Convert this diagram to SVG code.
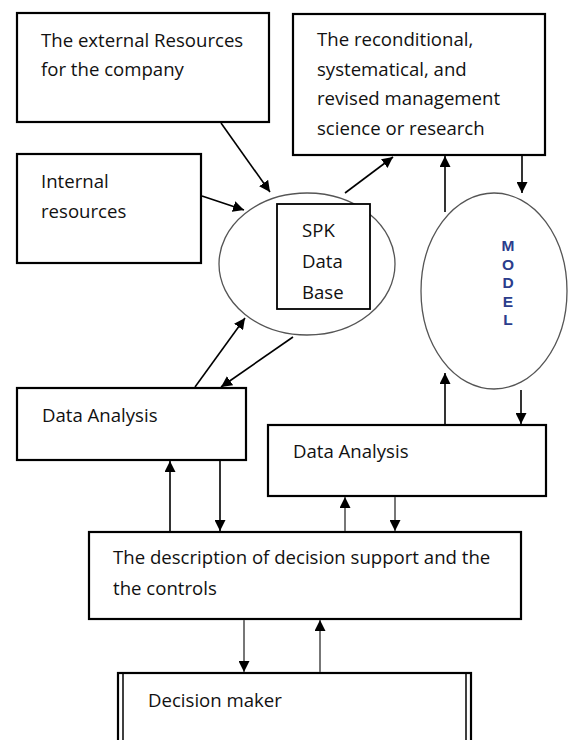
<svg xmlns="http://www.w3.org/2000/svg" width="571" height="740" viewBox="0 0 571 740">
<style>
.box{fill:#fff;stroke:#000;stroke-width:2.2}
.ell{fill:#fff;stroke:#555;stroke-width:1.3}
.t{font-family:"Open Sans","Noto Sans",sans-serif;font-size:18.6px;fill:#111}
.m{font-family:"Liberation Sans",Arial,sans-serif;font-size:15.5px;font-weight:bold;fill:#2b3d8c;text-anchor:middle}
.c{fill:none;stroke:#000;stroke-width:1.6;marker-end:url(#ah)}
.g{fill:none;stroke:#777;stroke-width:2;marker-end:url(#ah)}
</style>
<defs>
<marker id="ah" viewBox="0 0 10 10" refX="10" refY="5" markerWidth="11" markerHeight="11" markerUnits="userSpaceOnUse" orient="auto"><path d="M0,0 L10,5 L0,10 z" fill="#000"/></marker>
<clipPath id="spkclip"><rect x="270" y="200" width="110" height="99"/></clipPath>
</defs>
<rect width="571" height="740" fill="#fff"/>
<g id="external">
<rect class="box" x="17" y="13" width="252" height="109"/>
<text class="t" x="41" y="47">The external Resources</text>
<text class="t" x="41" y="76">for the company</text>
</g>
<g id="internal">
<rect class="box" x="17" y="154" width="184" height="109"/>
<text class="t" x="41" y="188">Internal</text>
<text class="t" x="41" y="218">resources</text>
</g>
<g id="research">
<rect class="box" x="293" y="14" width="252" height="141"/>
<text class="t" x="317" y="46">The reconditional,</text>
<text class="t" x="317" y="76">systematical, and</text>
<text class="t" x="317" y="105">revised management</text>
<text class="t" x="317" y="135">science or research</text>
</g>
<g id="spk">
<ellipse class="ell" cx="307" cy="264" rx="88" ry="71"/>
<rect fill="#fff" stroke="#000" stroke-width="1.8" x="277" y="204" width="93" height="105"/>
<g clip-path="url(#spkclip)">
<text class="t" x="302" y="237">SPK</text>
<text class="t" x="302" y="268">Data</text>
<text class="t" x="302" y="299">Base</text>
</g>
</g>
<g id="model">
<ellipse class="ell" cx="494" cy="291" rx="73" ry="98"/>
<text class="m" x="508" y="251">M</text>
<text class="m" x="508" y="270">O</text>
<text class="m" x="508" y="288">D</text>
<text class="m" x="508" y="307">E</text>
<text class="m" x="508" y="325">L</text>
</g>
<g id="analysis-left">
<rect class="box" x="17" y="388" width="229" height="72"/>
<text class="t" x="42" y="422">Data Analysis</text>
</g>
<g id="analysis-right">
<rect class="box" x="268" y="425" width="278" height="71"/>
<text class="t" x="293" y="458">Data Analysis</text>
</g>
<g id="description">
<rect class="box" x="89" y="532" width="432" height="87"/>
<text class="t" x="113" y="564">The description of decision support and the</text>
<text class="t" x="113" y="595">the controls</text>
</g>
<g id="decision-maker">
<rect class="box" x="118" y="673" width="353" height="80"/>
<line x1="123" y1="674" x2="123" y2="745" stroke="#000" stroke-width="1.5"/>
<line x1="466" y1="674" x2="466" y2="745" stroke="#000" stroke-width="1.5"/>
<text class="t" x="148" y="707">Decision maker</text>
</g>
<g id="connectors">
<line class="c" x1="221" y1="123" x2="270" y2="192"/>
<line class="c" x1="202" y1="196" x2="244" y2="210"/>
<line class="c" x1="345" y1="193" x2="393" y2="157"/>
<line class="c" x1="445" y1="212" x2="445" y2="156"/>
<line class="c" x1="522" y1="156" x2="522" y2="193"/>
<line class="c" x1="521" y1="390" x2="521" y2="424"/>
<line class="c" x1="445" y1="424" x2="445" y2="373"/>
<line class="c" x1="195" y1="387" x2="245" y2="318"/>
<line class="c" x1="293" y1="337" x2="221" y2="387"/>
<line class="c" x1="170" y1="531" x2="170" y2="461"/>
<line class="c" x1="220" y1="461" x2="220" y2="531"/>
<line class="g" x1="345" y1="531" x2="345" y2="497"/>
<line class="g" x1="395" y1="497" x2="395" y2="531"/>
<line class="g" x1="244" y1="620" x2="244" y2="672"/>
<line class="g" x1="320" y1="672" x2="320" y2="620"/>
</g>
</svg>
